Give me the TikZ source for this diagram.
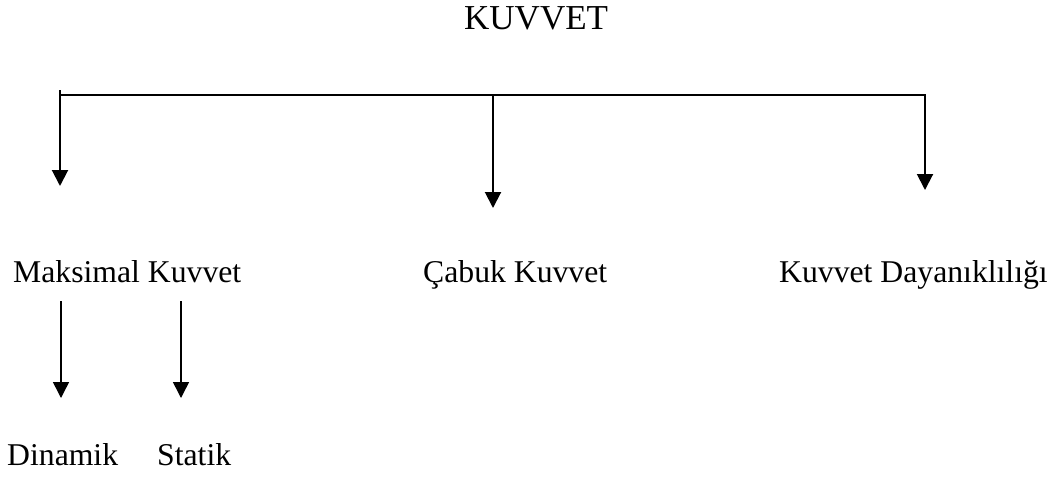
\documentclass[tikz,border=0pt]{standalone}
\usepackage{fontspec}
\setmainfont{Liberation Serif}
\usetikzlibrary{arrows.meta}
\begin{document}
\begin{tikzpicture}[x=1pt,y=-1pt,
  txt/.style={anchor=base west,inner sep=0pt,font=\fontsize{31.7}{38}\selectfont},
  headtxt/.style={txt,font=\fontsize{35}{42}\selectfont},
  link/.style={line width=2pt},
  thinlink/.style={line width=1.5pt},
  arr/.style={-{Triangle[width=16pt,length=16pt]}}]
\useasboundingbox (0,0) rectangle (1062,477);

% labels
\node[headtxt] (kuvvet) at (464,29) {KUVVET};
\node[txt] (maks) at (13,282) {Maksimal Kuvvet};
\node[txt] (cabuk) at (423,282) {Çabuk Kuvvet};
\node[txt] (dayan) at (779,282) {Kuvvet Dayanıklılığı};
\node[txt] (dinamik) at (7,465) {Dinamik};
\node[txt] (statik) at (157,465) {Statik};

% branching bar
\coordinate (bar-top) at (60,90);
\coordinate (bar-w) at (60,95);
\coordinate (bar-m) at (493,95);
\coordinate (bar-e) at (925,95);
\coordinate (tip-maks) at (60,186);
\coordinate (tip-cabuk) at (493,208);
\coordinate (tip-dayan) at (925,190);

\draw[link,arr] (bar-top) -- (tip-maks);
\draw[link,arr] (bar-m) -- (tip-cabuk);
\draw[link,arr,line join=miter] (bar-w) -- (bar-e) -- (tip-dayan);

% sub-branches of Maksimal Kuvvet
\coordinate (din-top) at (61,301);
\coordinate (din-tip) at (61,398);
\coordinate (sta-top) at (181,301);
\coordinate (sta-tip) at (181,398);
\draw[thinlink,arr] (din-top) -- (din-tip);
\draw[thinlink,arr] (sta-top) -- (sta-tip);
\end{tikzpicture}
\end{document}
